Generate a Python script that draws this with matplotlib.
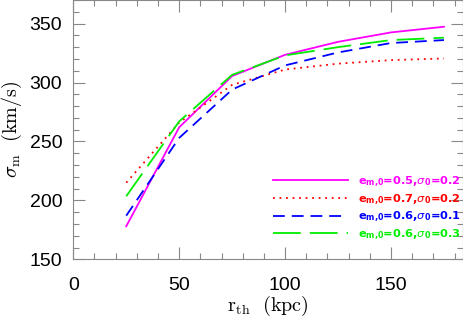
import matplotlib
matplotlib.use("Agg")
import matplotlib.pyplot as plt
from matplotlib.ticker import MultipleLocator

# data
r_th = [25, 50, 75, 100, 125, 150, 175]
sig_a = [178, 262, 305.5, 323.5, 334.5, 342.5, 347.3]   # e=0.5, s0=0.2
sig_b = [215, 266, 298, 311, 316, 319, 320.4]           # e=0.7, s0=0.2
sig_c = [187, 253, 294, 314.5, 325.5, 333.5, 336]       # e=0.6, s0=0.1
sig_d = [203.5, 267, 306.5, 323, 330, 336, 338]         # e=0.6, s0=0.3

labels = [
    r"$\mathbf{e_{m{,}0}}$=0.5,$\sigma_{\mathbf{0}}$=0.2",
    r"$\mathbf{e_{m{,}0}}$=0.7,$\sigma_{\mathbf{0}}$=0.2",
    r"$\mathbf{e_{m{,}0}}$=0.6,$\sigma_{\mathbf{0}}$=0.1",
    r"$\mathbf{e_{m{,}0}}$=0.6,$\sigma_{\mathbf{0}}$=0.3",
]
colors = ["#ff00ff", "#ff0000", "#0000ff", "#00ee00"]
dashes = [None, (1.3, 3.4), (8.5, 5.0), (20, 6.5)]

plt.rcParams["font.family"] = ["Liberation Sans", "DejaVu Sans"]
plt.rcParams["lines.scale_dashes"] = False

fig = plt.figure(figsize=(4.63, 3.2), dpi=100)
ax = fig.add_axes([0.1583, 0.1897, 0.8417, 0.8103])

for ys, c, d, lab in zip([sig_a, sig_b, sig_c, sig_d], colors, dashes, labels):
    line, = ax.plot(r_th, ys, color=c, lw=1.3, label=lab)
    if d is not None:
        line.set_dashes(d)

ax.set_xlim(0, 184)
ax.set_ylim(150, 370)
ax.xaxis.set_major_locator(MultipleLocator(50))
ax.xaxis.set_minor_locator(MultipleLocator(10))
ax.yaxis.set_major_locator(MultipleLocator(50))
ax.yaxis.set_minor_locator(MultipleLocator(10))
ax.tick_params(which="both", direction="in", top=True, right=True,
               color="#888888", labelsize=14, pad=8)
ax.tick_params(axis="x", which="both", pad=13)
ax.tick_params(which="major", length=8.5, width=0.8)
ax.tick_params(which="minor", length=4.3, width=0.8)
for s in ax.spines.values():
    s.set_color("#888888")
    s.set_linewidth(0.8)

ax.set_xlabel(r"$\mathrm{r_{th}\ \ (kpc)}$", fontsize=14.5, math_fontfamily="cm",
              labelpad=0)
ax.set_ylabel(r"$\sigma_{\mathrm{m}}\ \ \mathrm{(km/s)}$", fontsize=14.5,
              math_fontfamily="cm", labelpad=4)

leg = ax.legend(loc="lower right", bbox_to_anchor=(0.995, 0.067), frameon=False,
                prop={"family": "DejaVu Sans", "weight": "bold", "size": 8.2},
                handlelength=6.6, handletextpad=0.9,
                labelspacing=0.28, borderpad=0, borderaxespad=0)
for t, c in zip(leg.get_texts(), colors):
    t.set_color(c)
    t.set_math_fontfamily("dejavusans")

fig.savefig("out.png", dpi=100)
